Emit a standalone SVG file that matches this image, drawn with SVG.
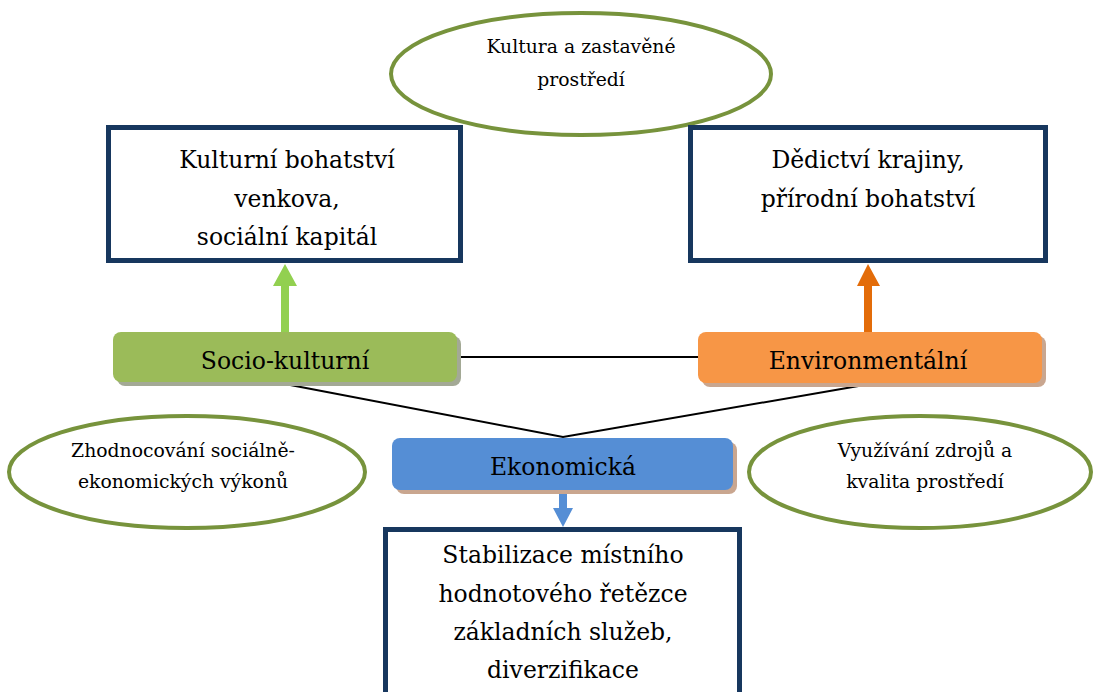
<svg xmlns="http://www.w3.org/2000/svg" width="1094" height="692" viewBox="0 0 1094 692">
<style>
text{font-family:"DejaVu Serif",serif;fill:#000;text-anchor:middle}
.big{font-size:23.5px}
.sm{font-size:18.8px}
.box{fill:#fff;stroke:#17375E;stroke-width:5}
.ell{fill:#fff;stroke:#77933C;stroke-width:4}
.con{stroke:#000;stroke-width:2;fill:none}
</style>
<rect width="1094" height="692" fill="#fff"/>
<g id="connectors">
<line class="con" x1="457" y1="357" x2="698" y2="357"/>
<polyline class="con" points="285,384 563,437 870,384"/>
<path d="M281,333 V286 H273 L285,264 L297,286 H289 V333 Z" fill="#92D050"/>
<path d="M864,333 V286 H857 L868,264 L880,286 H872 V333 Z" fill="#E36C09"/>
<path d="M559,491 V508 H553 L563,527 L573,508 H567 V491 Z" fill="#558ED5"/>
</g>
<g id="kultura-ellipse">
<ellipse class="ell" cx="581" cy="74" rx="190" ry="61"/>
<text class="sm" x="581" y="53">Kultura a zastavěné</text>
<text class="sm" x="581" y="86">prostředí</text>
</g>
<g id="kulturni-box">
<rect class="box" x="108.5" y="127.5" width="352" height="133"/>
<text class="big" x="287" y="168">Kulturní bohatství</text>
<text class="big" x="287" y="207">venkova,</text>
<text class="big" x="287" y="245">sociální kapitál</text>
</g>
<g id="dedictvi-box">
<rect class="box" x="690.5" y="127.5" width="355" height="133"/>
<text class="big" x="868" y="168">Dědictví krajiny,</text>
<text class="big" x="868" y="207">přírodní bohatství</text>
</g>
<g id="socio">
<rect x="117" y="336" width="344" height="50" rx="8" fill="#A3A995"/>
<rect x="113" y="332" width="344" height="50" rx="8" fill="#9BBB59"/>
<text class="big" x="285" y="369">Socio-kulturní</text>
</g>
<g id="environ">
<rect x="702" y="336" width="344" height="51" rx="8" fill="#C9A68F"/>
<rect x="698" y="332" width="344" height="51" rx="8" fill="#F79646"/>
<text class="big" x="868" y="369">Environmentální</text>
</g>
<g id="ekonomicka">
<rect x="396" y="442" width="341" height="52" rx="8" fill="#C9A68F"/>
<rect x="392" y="438" width="341" height="52" rx="8" fill="#558ED5"/>
<text class="big" x="563" y="475">Ekonomická</text>
</g>
<g id="zhodnocovani-ellipse">
<ellipse class="ell" cx="187" cy="472" rx="178" ry="56"/>
<text class="sm" x="183" y="457">Zhodnocování sociálně-</text>
<text class="sm" x="183" y="488">ekonomických výkonů</text>
</g>
<g id="vyuzivani-ellipse">
<ellipse class="ell" cx="920" cy="472" rx="171" ry="56"/>
<text class="sm" x="925" y="457">Využívání zdrojů a</text>
<text class="sm" x="925" y="488">kvalita prostředí</text>
</g>
<g id="stabilizace-box">
<rect class="box" x="385.5" y="529.5" width="354" height="170"/>
<text class="big" x="563" y="563">Stabilizace místního</text>
<text class="big" x="563" y="602">hodnotového řetězce</text>
<text class="big" x="563" y="640">základních služeb,</text>
<text class="big" x="563" y="678">diverzifikace</text>
</g>
</svg>
